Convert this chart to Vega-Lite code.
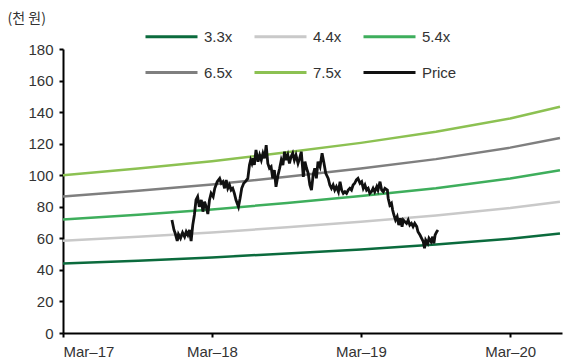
{
  "$schema": "https://vega.github.io/schema/vega-lite/v6.json",
  "width": 499,
  "height": 284,
  "autosize": {"type": "none"},
  "padding": {"top": 49, "left": 63, "right": 10, "bottom": 30},
  "background": "white",
  "config": {
    "view": {"stroke": null},
    "font": "Liberation Sans",
    "axis": {"grid": false, "domainColor": "#000", "domainWidth": 2, "tickColor": "#000", "tickWidth": 2, "tickSize": 4, "labelFontSize": 15, "labelColor": "#333", "labelFont": "Liberation Sans"}
  },
  "datasets": {
    "bands": [
      {"date": "2017-03-01", "series": "3.3x", "value": 44.0},
      {"date": "2017-09-01", "series": "3.3x", "value": 45.8},
      {"date": "2018-03-01", "series": "3.3x", "value": 47.9},
      {"date": "2018-09-01", "series": "3.3x", "value": 50.4},
      {"date": "2019-03-01", "series": "3.3x", "value": 53.0},
      {"date": "2019-09-01", "series": "3.3x", "value": 56.1},
      {"date": "2020-03-01", "series": "3.3x", "value": 59.8},
      {"date": "2020-07-01", "series": "3.3x", "value": 63.0},
      {"date": "2017-03-01", "series": "4.4x", "value": 58.5},
      {"date": "2017-09-01", "series": "4.4x", "value": 61.0},
      {"date": "2018-03-01", "series": "4.4x", "value": 63.7},
      {"date": "2018-09-01", "series": "4.4x", "value": 67.0},
      {"date": "2019-03-01", "series": "4.4x", "value": 70.5},
      {"date": "2019-09-01", "series": "4.4x", "value": 74.5},
      {"date": "2020-03-01", "series": "4.4x", "value": 79.2},
      {"date": "2020-07-01", "series": "4.4x", "value": 83.2},
      {"date": "2017-03-01", "series": "5.4x", "value": 72.0},
      {"date": "2017-09-01", "series": "5.4x", "value": 75.0},
      {"date": "2018-03-01", "series": "5.4x", "value": 78.3},
      {"date": "2018-09-01", "series": "5.4x", "value": 82.4},
      {"date": "2019-03-01", "series": "5.4x", "value": 86.8},
      {"date": "2019-09-01", "series": "5.4x", "value": 91.8},
      {"date": "2020-03-01", "series": "5.4x", "value": 97.9},
      {"date": "2020-07-01", "series": "5.4x", "value": 103.2},
      {"date": "2017-03-01", "series": "6.5x", "value": 86.5},
      {"date": "2017-09-01", "series": "6.5x", "value": 90.1},
      {"date": "2018-03-01", "series": "6.5x", "value": 94.1},
      {"date": "2018-09-01", "series": "6.5x", "value": 99.0},
      {"date": "2019-03-01", "series": "6.5x", "value": 104.2},
      {"date": "2019-09-01", "series": "6.5x", "value": 110.2},
      {"date": "2020-03-01", "series": "6.5x", "value": 117.5},
      {"date": "2020-07-01", "series": "6.5x", "value": 123.6},
      {"date": "2017-03-01", "series": "7.5x", "value": 100.0},
      {"date": "2017-09-01", "series": "7.5x", "value": 104.2},
      {"date": "2018-03-01", "series": "7.5x", "value": 108.8},
      {"date": "2018-09-01", "series": "7.5x", "value": 114.5},
      {"date": "2019-03-01", "series": "7.5x", "value": 120.5},
      {"date": "2019-09-01", "series": "7.5x", "value": 127.5},
      {"date": "2020-03-01", "series": "7.5x", "value": 136.0},
      {"date": "2020-07-01", "series": "7.5x", "value": 143.4}
    ],
    "price": [
      {"date": "2017-11-23", "value": 71.6},
      {"date": "2017-11-28", "value": 65.3},
      {"date": "2017-12-01", "value": 63.2},
      {"date": "2017-12-06", "value": 58.3},
      {"date": "2017-12-09", "value": 62.5},
      {"date": "2017-12-14", "value": 60.0},
      {"date": "2017-12-19", "value": 63.6},
      {"date": "2017-12-24", "value": 61.0},
      {"date": "2017-12-28", "value": 64.2},
      {"date": "2018-01-01", "value": 62.1},
      {"date": "2018-01-05", "value": 65.3},
      {"date": "2018-01-09", "value": 58.3},
      {"date": "2018-01-13", "value": 68.4},
      {"date": "2018-01-17", "value": 74.8},
      {"date": "2018-01-21", "value": 84.3},
      {"date": "2018-01-25", "value": 86.4},
      {"date": "2018-01-29", "value": 80.0},
      {"date": "2018-02-03", "value": 84.3},
      {"date": "2018-02-07", "value": 76.9},
      {"date": "2018-02-11", "value": 83.2},
      {"date": "2018-02-15", "value": 80.0},
      {"date": "2018-02-19", "value": 75.4},
      {"date": "2018-02-23", "value": 84.3},
      {"date": "2018-02-27", "value": 88.5},
      {"date": "2018-03-04", "value": 86.4},
      {"date": "2018-03-08", "value": 91.7},
      {"date": "2018-03-14", "value": 95.9},
      {"date": "2018-03-20", "value": 98.0},
      {"date": "2018-03-24", "value": 94.9},
      {"date": "2018-03-28", "value": 95.9},
      {"date": "2018-04-01", "value": 91.7},
      {"date": "2018-04-05", "value": 97.0},
      {"date": "2018-04-09", "value": 91.7},
      {"date": "2018-04-13", "value": 93.8},
      {"date": "2018-04-17", "value": 90.6},
      {"date": "2018-04-21", "value": 91.7},
      {"date": "2018-04-25", "value": 88.5},
      {"date": "2018-04-29", "value": 84.3},
      {"date": "2018-05-05", "value": 80.0},
      {"date": "2018-05-09", "value": 85.4},
      {"date": "2018-05-13", "value": 91.7},
      {"date": "2018-05-18", "value": 94.9},
      {"date": "2018-05-22", "value": 95.9},
      {"date": "2018-05-28", "value": 98.0},
      {"date": "2018-06-01", "value": 106.5},
      {"date": "2018-06-04", "value": 109.6},
      {"date": "2018-06-07", "value": 107.5},
      {"date": "2018-06-10", "value": 110.7},
      {"date": "2018-06-13", "value": 106.5},
      {"date": "2018-06-17", "value": 116.0},
      {"date": "2018-06-22", "value": 108.6},
      {"date": "2018-06-26", "value": 112.8},
      {"date": "2018-06-30", "value": 109.6},
      {"date": "2018-07-04", "value": 113.9},
      {"date": "2018-07-08", "value": 110.7},
      {"date": "2018-07-12", "value": 119.1},
      {"date": "2018-07-16", "value": 107.5},
      {"date": "2018-07-20", "value": 104.4},
      {"date": "2018-07-24", "value": 105.4},
      {"date": "2018-07-28", "value": 98.0},
      {"date": "2018-08-01", "value": 103.3},
      {"date": "2018-08-05", "value": 92.7},
      {"date": "2018-08-10", "value": 100.1},
      {"date": "2018-08-14", "value": 104.4},
      {"date": "2018-08-18", "value": 109.6},
      {"date": "2018-08-22", "value": 106.5},
      {"date": "2018-08-26", "value": 114.9},
      {"date": "2018-08-30", "value": 109.6},
      {"date": "2018-09-03", "value": 112.8},
      {"date": "2018-09-07", "value": 107.5},
      {"date": "2018-09-11", "value": 111.7},
      {"date": "2018-09-15", "value": 113.9},
      {"date": "2018-09-19", "value": 109.6},
      {"date": "2018-09-23", "value": 112.8},
      {"date": "2018-09-28", "value": 107.5},
      {"date": "2018-10-02", "value": 110.7},
      {"date": "2018-10-06", "value": 114.9},
      {"date": "2018-10-11", "value": 99.0},
      {"date": "2018-10-15", "value": 108.6},
      {"date": "2018-10-19", "value": 104.4},
      {"date": "2018-10-23", "value": 101.2},
      {"date": "2018-10-27", "value": 93.8},
      {"date": "2018-10-31", "value": 90.6},
      {"date": "2018-11-04", "value": 100.1},
      {"date": "2018-11-08", "value": 104.4},
      {"date": "2018-11-12", "value": 98.0},
      {"date": "2018-11-16", "value": 108.6},
      {"date": "2018-11-21", "value": 105.4},
      {"date": "2018-11-26", "value": 113.9},
      {"date": "2018-11-30", "value": 108.6},
      {"date": "2018-12-05", "value": 101.2},
      {"date": "2018-12-11", "value": 98.0},
      {"date": "2018-12-15", "value": 93.8},
      {"date": "2018-12-19", "value": 91.7},
      {"date": "2018-12-23", "value": 93.8},
      {"date": "2018-12-27", "value": 90.6},
      {"date": "2018-12-31", "value": 92.7},
      {"date": "2019-01-05", "value": 89.5},
      {"date": "2019-01-09", "value": 95.9},
      {"date": "2019-01-13", "value": 90.6},
      {"date": "2019-01-17", "value": 88.5},
      {"date": "2019-01-21", "value": 89.5},
      {"date": "2019-01-25", "value": 88.5},
      {"date": "2019-01-29", "value": 90.6},
      {"date": "2019-02-02", "value": 91.7},
      {"date": "2019-02-06", "value": 90.6},
      {"date": "2019-02-10", "value": 93.8},
      {"date": "2019-02-14", "value": 94.9},
      {"date": "2019-02-18", "value": 97.0},
      {"date": "2019-02-22", "value": 98.0},
      {"date": "2019-02-27", "value": 94.9},
      {"date": "2019-03-03", "value": 95.9},
      {"date": "2019-03-07", "value": 91.7},
      {"date": "2019-03-11", "value": 93.8},
      {"date": "2019-03-15", "value": 90.6},
      {"date": "2019-03-19", "value": 91.7},
      {"date": "2019-03-23", "value": 88.5},
      {"date": "2019-03-27", "value": 89.5},
      {"date": "2019-03-31", "value": 91.7},
      {"date": "2019-04-04", "value": 89.5},
      {"date": "2019-04-09", "value": 92.7},
      {"date": "2019-04-12", "value": 90.6},
      {"date": "2019-04-17", "value": 95.9},
      {"date": "2019-04-21", "value": 90.6},
      {"date": "2019-04-25", "value": 89.5},
      {"date": "2019-04-29", "value": 91.7},
      {"date": "2019-05-05", "value": 90.6},
      {"date": "2019-05-07", "value": 85.4},
      {"date": "2019-05-11", "value": 81.1},
      {"date": "2019-05-15", "value": 82.2},
      {"date": "2019-05-18", "value": 77.9},
      {"date": "2019-05-21", "value": 74.8},
      {"date": "2019-05-25", "value": 71.6},
      {"date": "2019-05-29", "value": 73.7},
      {"date": "2019-06-02", "value": 68.4},
      {"date": "2019-06-06", "value": 72.7},
      {"date": "2019-06-10", "value": 67.4},
      {"date": "2019-06-13", "value": 71.6},
      {"date": "2019-06-17", "value": 70.5},
      {"date": "2019-06-21", "value": 69.5},
      {"date": "2019-06-25", "value": 71.6},
      {"date": "2019-06-29", "value": 68.4},
      {"date": "2019-07-03", "value": 69.5},
      {"date": "2019-07-07", "value": 67.4},
      {"date": "2019-07-11", "value": 69.5},
      {"date": "2019-07-16", "value": 67.4},
      {"date": "2019-07-19", "value": 64.2},
      {"date": "2019-07-24", "value": 62.1},
      {"date": "2019-07-28", "value": 60.0},
      {"date": "2019-08-01", "value": 57.9},
      {"date": "2019-08-04", "value": 53.7},
      {"date": "2019-08-07", "value": 58.9},
      {"date": "2019-08-12", "value": 56.8},
      {"date": "2019-08-15", "value": 60.0},
      {"date": "2019-08-20", "value": 57.9},
      {"date": "2019-08-24", "value": 61.0},
      {"date": "2019-08-27", "value": 56.8},
      {"date": "2019-08-30", "value": 62.1},
      {"date": "2019-09-03", "value": 64.2},
      {"date": "2019-09-06", "value": 65.3}
    ]
  },
  "encoding": {
    "x": {
      "field": "date", "type": "temporal",
      "scale": {"domain": ["2017-03-01", "2020-07-06"]},
      "axis": {
        "title": null,
        "values": ["2017-03-01", "2018-03-01", "2019-03-01", "2020-03-01"],
        "format": "%b–%y",
        "labelPadding": 7
      }
    },
    "y": {
      "field": "value", "type": "quantitative",
      "scale": {"domain": [0, 180], "nice": false},
      "axis": {
        "values": [0, 20, 40, 60, 80, 100, 120, 140, 160, 180],
        "labelPadding": 6,
        "title": "(천 원)",
        "titleAngle": 0,
        "titleAlign": "left",
        "titleBaseline": "middle",
        "titleX": -56,
        "titleY": -31,
        "titleFont": "Noto Sans CJK KR",
        "titleFontSize": 14,
        "titleFontWeight": "normal",
        "titleColor": "#333"
      }
    },
    "color": {
      "field": "series", "type": "nominal",
      "scale": {
        "domain": ["3.3x", "4.4x", "5.4x", "6.5x", "7.5x", "Price"],
        "range": ["#0b6b3d", "#c9c9c9", "#3eae5c", "#7f7f7f", "#8cc152", "#111111"]
      },
      "legend": {
        "title": null,
        "orient": "none",
        "direction": "horizontal",
        "legendX": 81,
        "legendY": -40,
        "columns": 3,
        "padding": 0,
        "symbolType": "stroke",
        "symbolSize": 2704,
        "symbolStrokeWidth": 3,
        "labelFontSize": 15,
        "labelColor": "#333",
        "labelOffset": 5,
        "columnPadding": 15,
        "rowPadding": -20
      }
    }
  },
  "layer": [
    {
      "data": {"name": "bands"},
      "mark": {"type": "line", "strokeWidth": 2.5}
    },
    {
      "data": {"name": "price"},
      "transform": [{"calculate": "'Price'", "as": "series"}],
      "mark": {"type": "line", "strokeWidth": 2.8, "color": "#111111"}
    }
  ]
}
